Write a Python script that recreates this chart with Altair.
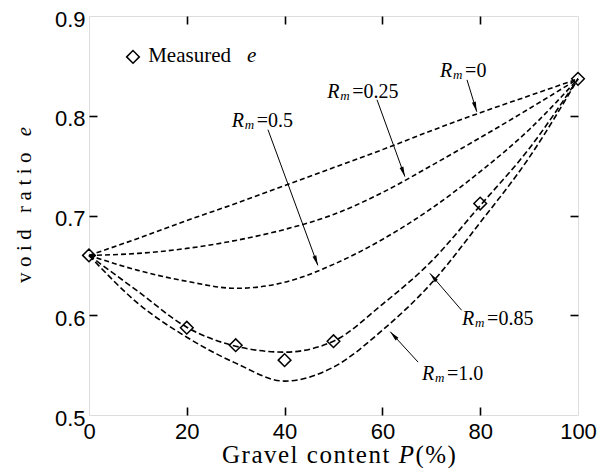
import math
import altair as alt
import pandas as pd

# ---------------- data ----------------
P = [0, 10, 20, 30, 40, 50, 60, 70, 80, 90, 100]
e_R0 = [0.660, 0.677, 0.695, 0.712, 0.730, 0.748, 0.766, 0.785, 0.803, 0.820, 0.837]
e_R025 = [0.660, 0.662, 0.667, 0.675, 0.686, 0.701, 0.723, 0.750, 0.778, 0.807, 0.837]
e_R05 = [0.660, 0.645, 0.634, 0.627, 0.633, 0.651, 0.676, 0.707, 0.744, 0.786, 0.837]
e_R085 = [0.660, 0.624, 0.588, 0.569, 0.563, 0.574, 0.611, 0.654, 0.710, 0.767, 0.837]
e_R10 = [0.660, 0.612, 0.578, 0.552, 0.534, 0.548, 0.585, 0.632, 0.693, 0.758, 0.837]

meas_P = [0, 20, 30, 40, 50, 80, 100]
meas_e = [0.660, 0.5875, 0.570, 0.555, 0.574, 0.712, 0.837]

x_ticks = [0, 20, 40, 60, 80, 100]
y_ticks = [0.5, 0.6, 0.7, 0.8, 0.9]

rm_labels = ["0", "0.25", "0.5", "0.85", "1.0"]
lab_x = [71.8, 48.7, 29.2, 76.3, 68.1]
lab_y = [0.839, 0.818, 0.789, 0.590, 0.535]
arr_x0 = [77.3, 58.9, 36.6, 76.2, 67.3]
arr_y0 = [0.836, 0.816, 0.786, 0.605, 0.553]
arr_x1 = [79.3, 64.6, 46.8, 69.7, 61.6]
arr_y1 = [0.804, 0.739, 0.650, 0.642, 0.5835]

x_title = [("Gravel content ", False), ("P", True), ("(%)", False)]
y_title = [("void ratio ", False), ("e", True)]

# ---------------- layout ----------------
W, H = 489, 399
XD = [0, 100]
YD = [0.5, 0.9]
SERIF = "Liberation Serif"
SANS = "Liberation Sans"

curves = []
for name, vals in [("0", e_R0), ("0.25", e_R025), ("0.5", e_R05), ("0.85", e_R085), ("1.0", e_R10)]:
    for p, v in zip(P, vals):
        curves.append({"P": p, "e": v, "Rm": name})
curves = pd.DataFrame(curves)
meas = pd.DataFrame({"P": meas_P, "e": meas_e})


def sx(v):
    return (v - XD[0]) / (XD[1] - XD[0]) * W


def sy(v):
    return (YD[1] - v) / (YD[1] - YD[0]) * H


angles = []
for a, b, c, d in zip(arr_x0, arr_y0, arr_x1, arr_y1):
    ux, uy = sx(c) - sx(a), sy(d) - sy(b)
    angles.append(math.degrees(math.atan2(ux, -uy)) % 360)

ann = pd.DataFrame({
    "lx": lab_x, "ly": lab_y, "eq": ["=" + s for s in rm_labels],
    "x0": arr_x0, "y0": arr_y0, "x1": arr_x1, "y1": arr_y1, "ang": angles,
})

xs = alt.Scale(domain=XD, nice=False, zero=False)
ys = alt.Scale(domain=YD, nice=False, zero=False)


def X(field, axis=None):
    return alt.X(field, type="quantitative", scale=xs, axis=axis)


def Y(field, axis=None):
    return alt.Y(field, type="quantitative", scale=ys, axis=axis)


lab_x_axis = alt.Axis(orient="bottom", values=x_ticks, format="d", ticks=False, domain=False,
                      grid=False, labelFont=SANS, labelFontSize=22, labelColor="black",
                      labelPadding=6, labelFlush=False, title=None)
lab_y_axis = alt.Axis(orient="left", values=y_ticks, format=".1f", ticks=False, domain=False,
                      grid=False, labelFont=SANS, labelFontSize=22, labelColor="black",
                      labelPadding=4, labelOffset=3, labelFlush=False, title=None)

tick_kw = dict(labels=False, domain=False, grid=False, ticks=True, tickSize=8,
               tickColor="black", tickWidth=1.6, title=None)
ax_bottom_in = alt.Axis(orient="top", offset=-H, values=[20, 40, 60, 80], **tick_kw)
ax_top_in = alt.Axis(orient="bottom", offset=-H, values=[20, 40, 60, 80], **tick_kw)
ax_left_in = alt.Axis(orient="right", offset=-W, values=[0.6, 0.7, 0.8], **tick_kw)
ax_right_in = alt.Axis(orient="left", offset=-W, values=[0.6, 0.7, 0.8], **tick_kw)

base = alt.Chart(curves)
fine = base.transform_filter(alt.FieldOneOfPredicate(field="Rm", oneOf=["0", "0.25", "0.5"])).mark_line(
    color="black", strokeWidth=1.6, strokeDash=[5, 3], interpolate="monotone"
).encode(x=X("P", lab_x_axis), y=Y("e", lab_y_axis), detail="Rm:N")

coarse = base.transform_filter(alt.FieldOneOfPredicate(field="Rm", oneOf=["0.85", "1.0"])).mark_line(
    color="black", strokeWidth=1.6, strokeDash=[6, 3], interpolate="monotone"
).encode(x=X("P", ax_bottom_in), y=Y("e", ax_left_in), detail="Rm:N")

points = alt.Chart(meas).mark_point(
    shape="diamond", filled=False, color="black", strokeWidth=1.5, size=160, opacity=1
).encode(x=X("P", ax_top_in), y=Y("e", ax_right_in))

arrows = alt.Chart(ann).mark_rule(color="black", strokeWidth=1).encode(
    x=X("x0"), y=Y("y0"), x2="x1", y2="y1")
heads = alt.Chart(ann).mark_point(
    shape="M0,0L-0.2,1L0.2,1Z", filled=True, color="black", size=400, opacity=1
).encode(x=X("x1"), y=Y("y1"), angle=alt.Angle("ang:Q", scale=None))

t_R = alt.Chart(ann).mark_text(text="R", font=SERIF, fontStyle="italic", fontSize=20,
                               align="left", baseline="alphabetic", color="black").encode(
    x=X("lx"), y=Y("ly"))
t_m = alt.Chart(ann).mark_text(text="m", font=SERIF, fontStyle="italic", fontSize=13,
                               align="left", baseline="alphabetic", dx=13, dy=2, color="black").encode(
    x=X("lx"), y=Y("ly"))
t_v = alt.Chart(ann).mark_text(font=SERIF, fontSize=20, align="left", baseline="alphabetic",
                               dx=25, color="black").encode(
    x=X("lx"), y=Y("ly"), text="eq:N")

leg = pd.DataFrame({"x": [9.0], "y": [0.859], "tx": [12.1], "ex": [32.3], "ty": [0.854]})
leg_pt = alt.Chart(leg).mark_point(shape="diamond", filled=False, color="black", strokeWidth=1.5,
                                   size=160, opacity=1).encode(x=X("x"), y=Y("y"))
leg_t1 = alt.Chart(leg).mark_text(text="Measured", font=SERIF, fontSize=21, align="left",
                                  baseline="alphabetic", color="black").encode(x=X("tx"), y=Y("ty"))
leg_t2 = alt.Chart(leg).mark_text(text="e", font=SERIF, fontStyle="italic", fontSize=21, align="left",
                                  baseline="alphabetic", color="black").encode(x=X("ex"), y=Y("ty"))

# ----- letter-spaced axis titles (Times-like advance widths, per 1000 em) -----
ADV = {"G": 722, "r": 333, "a": 444, "v": 500, "e": 444, "l": 278, " ": 250, "c": 444,
       "o": 500, "n": 500, "t": 278, "P": 611, "(": 333, "%": 833, ")": 333, "i": 278, "d": 500}


def spaced(parts, fs, track, start):
    rows, pos = [], start
    for txt, it in parts:
        for ch in txt:
            if ch != " ":
                rows.append({"ch": ch, "pos": pos, "it": it})
            pos += ADV.get(ch, 500) / 1000 * fs + track
    return pd.DataFrame(rows)


# x title: runs left -> right, baseline below the plot
xt_df = spaced(x_title, 25, 1.5, 222 - 89)
xt_df["base"] = 447
# y title: runs bottom -> top (rotated), so positions decrease
yt_len_fs, yt_track = 21, 5.5
yt_df = spaced(y_title, yt_len_fs, yt_track, 0)
yt_df["pos"] = (283 - 16) - yt_df["pos"]


def char_layer(df, italic, fs, vertical):
    sub = df[df["it"] == italic]
    kw = dict(font=SERIF, fontSize=fs, color="black", baseline="alphabetic", align="left")
    if italic:
        kw["fontStyle"] = "italic"
    if vertical:
        kw["angle"] = 270
        kw["baseline"] = "middle"
        return alt.Chart(sub).mark_text(**kw).encode(
            x=alt.value(-64), y=alt.Y("pos:Q", scale=None, axis=None), text="ch:N")
    return alt.Chart(sub).mark_text(**kw).encode(
        x=alt.X("pos:Q", scale=None, axis=None), y=alt.Y("base:Q", scale=None, axis=None), text="ch:N")


xt_a = char_layer(xt_df, False, 25, False)
xt_b = char_layer(xt_df, True, 25, False)
yt_a = char_layer(yt_df, False, yt_len_fs, True)
yt_b = char_layer(yt_df, True, yt_len_fs, True)

chart = alt.layer(
    fine, coarse, points, arrows, heads, t_R, t_m, t_v, leg_pt, leg_t1, leg_t2,
    xt_a, xt_b, yt_a, yt_b
).resolve_axis(x="independent", y="independent").properties(
    width=W, height=H,
    autosize=alt.AutoSizeParams(type="none"),
    padding={"left": 81, "top": 8, "right": 24, "bottom": 53},
).configure_view(stroke="black", strokeWidth=2).configure(background="white")

chart.save("out.html", embed_options={"renderer": "svg", "actions": False})
